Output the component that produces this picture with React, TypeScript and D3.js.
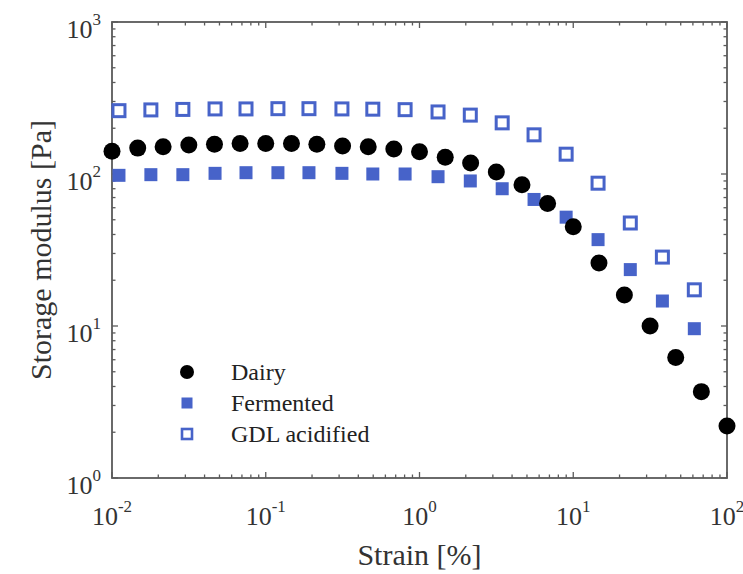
import { scaleLog } from 'd3'

const dairyStrain = [
  0.01, 0.0147, 0.0215, 0.0316, 0.0464, 0.0681, 0.1, 0.147, 0.215, 0.316, 0.464, 0.681,
  1, 1.47, 2.15, 3.16, 4.64, 6.81, 10, 14.7, 21.5, 31.6, 46.4, 68.1, 100,
]
const dairyG = [
  141, 148, 151, 155, 157, 159, 159, 159, 157, 153, 151, 146,
  140, 129, 118, 103, 85, 64, 45, 26, 16, 10, 6.2, 3.7, 2.2,
]
const acidStrain = [
  0.0111, 0.0179, 0.0289, 0.0468, 0.0744, 0.12, 0.191, 0.313, 0.497, 0.806,
  1.32, 2.14, 3.45, 5.56, 8.99, 14.5, 23.5, 38, 61.3,
]
const fermentedG = [98, 99, 99, 101, 102, 102, 102, 101, 100, 100, 96, 90, 80, 68, 52, 37, 23.5, 14.6, 9.6]
const gdlG = [261, 264, 266, 268, 268, 269, 269, 268, 267, 265, 256, 244, 217, 181, 135, 87, 47.6, 28.4, 17.3]

const xDecades = [-2, -1, 0, 1, 2]
const yDecades = [0, 1, 2, 3]
const legendLabels = ['Dairy', 'Fermented', 'GDL acidified']

const blue = '#4763c9'
const axisColor = '#5a5a5a'
const font = '"Liberation Serif", "Times New Roman", serif'

function minorTicks(decades: number[]) {
  const out: number[] = []
  for (let i = 0; i < decades.length - 1; i++) {
    for (let m = 2; m <= 9; m++) out.push(m * Math.pow(10, decades[i]))
  }
  return out
}

function Pow({ x, y, exp, anchor }: { x: number; y: number; exp: number; anchor: string }) {
  return (
    <text x={x} y={y} textAnchor={anchor} fontFamily={font} fontSize="26" fill="#333">
      10<tspan dy="-13" fontSize="17">{exp}</tspan>
    </text>
  )
}

export default function App() {
  const width = 743
  const height = 574
  const left = 112
  const right = 727
  const top = 22
  const bottom = 478

  const x = scaleLog().domain([0.01, 100]).range([left, right])
  const y = scaleLog().domain([1, 1000]).range([bottom, top])

  const xMinor = minorTicks(xDecades)
  const yMinor = minorTicks(yDecades)
  const major = 6
  const minor = 3.5

  return (
    <svg
      width={width}
      height={height}
      viewBox={`0 0 ${width} ${height}`}
      style={{ position: 'absolute', left: 0, top: 0, background: '#fff' }}
    >
      <rect width={width} height={height} fill="#ffffff" />
      <g stroke={axisColor} strokeWidth="1.3">
        {xDecades.map((d) => {
          const px = x(Math.pow(10, d))
          return (
            <g key={`xm${d}`}>
              <line x1={px} x2={px} y1={bottom} y2={bottom - major} />
              <line x1={px} x2={px} y1={top} y2={top + major} />
            </g>
          )
        })}
        {xMinor.map((v) => (
          <g key={`xn${v}`}>
            <line x1={x(v)} x2={x(v)} y1={bottom} y2={bottom - minor} />
            <line x1={x(v)} x2={x(v)} y1={top} y2={top + minor} />
          </g>
        ))}
        {yDecades.map((d) => {
          const py = y(Math.pow(10, d))
          return (
            <g key={`ym${d}`}>
              <line x1={left} x2={left + major} y1={py} y2={py} />
              <line x1={right} x2={right - major} y1={py} y2={py} />
            </g>
          )
        })}
        {yMinor.map((v) => (
          <g key={`yn${v}`}>
            <line x1={left} x2={left + minor} y1={y(v)} y2={y(v)} />
            <line x1={right} x2={right - minor} y1={y(v)} y2={y(v)} />
          </g>
        ))}
        <rect x={left} y={top} width={right - left} height={bottom - top} fill="none" strokeWidth="1.8" />
      </g>

      {xDecades.map((d) => (
        <Pow key={`xl${d}`} x={x(Math.pow(10, d))} y={525} exp={d} anchor="middle" />
      ))}
      {yDecades.map((d) => (
        <Pow key={`yl${d}`} x={101} y={y(Math.pow(10, d)) + 16} exp={d} anchor="end" />
      ))}

      <text x={(left + right) / 2} y={565} textAnchor="middle" fontFamily={font} fontSize="30" fill="#333">
        Strain [%]
      </text>
      <text
        transform={`translate(51, ${(top + bottom) / 2}) rotate(-90)`}
        textAnchor="middle"
        fontFamily={font}
        fontSize="30"
        fill="#333"
      >
        Storage modulus [Pa]
      </text>

      {acidStrain.map((s, i) => (
        <rect key={`g${i}`} x={x(s) - 6} y={y(gdlG[i]) - 6} width="12" height="12" fill="#fff" stroke={blue} strokeWidth="3" />
      ))}
      {acidStrain.map((s, i) => (
        <rect key={`f${i}`} x={x(s) - 6.5} y={y(fermentedG[i]) - 6.5} width="13" height="13" fill={blue} />
      ))}
      {dairyStrain.map((s, i) => (
        <circle key={`d${i}`} cx={x(s)} cy={y(dairyG[i])} r="8.5" fill="#000" />
      ))}

      {legendLabels.map((label, i) => {
        const cy = 372 + i * 31
        return (
          <g key={label}>
            {i === 0 && <circle cx={187} cy={cy} r="7" fill="#000" />}
            {i === 1 && <rect x={181.5} y={cy - 5.5} width="11" height="11" fill={blue} />}
            {i === 2 && <rect x={182} y={cy - 5} width="10" height="10" fill="#fff" stroke={blue} strokeWidth="2.6" />}
            <text x={231} y={cy + 8} fontFamily={font} fontSize="24" fill="#222">
              {label}
            </text>
          </g>
        )
      })}
    </svg>
  )
}
